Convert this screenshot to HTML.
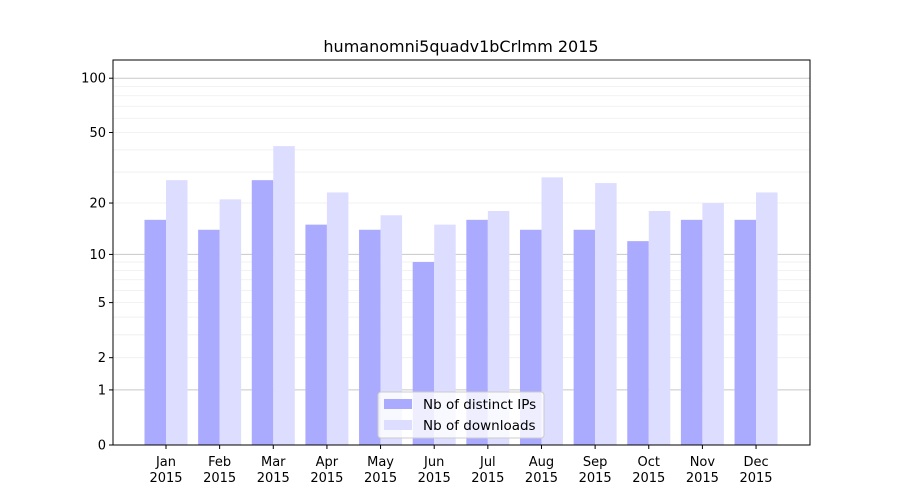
<!DOCTYPE html>
<html><head><meta charset="utf-8"><style>
body{margin:0;background:#fff;font-family:"DejaVu Sans","Liberation Sans",sans-serif;}
svg text{font-family:"DejaVu Sans","Liberation Sans",sans-serif;}
</style></head><body>
<svg id="chart" width="900" height="500" xmlns="http://www.w3.org/2000/svg">
<rect width="900" height="500" fill="#fff"/>
<text x="461" y="52" text-anchor="middle" font-size="16">humanomni5quadv1bCrlmm 2015</text>
<g id="grid"></g><g id="bars"></g><g id="axes"></g>
<g>
<rect x="378" y="392" width="166" height="46" rx="3" fill="#fff" fill-opacity="0.8" stroke="#ccc"/>
<rect x="384" y="399" width="28" height="10" fill="#aaaaff"/>
<text x="423" y="409" font-size="13.5">Nb of distinct IPs</text>
<rect x="384" y="420" width="28" height="10" fill="#ddddff"/>
<text x="423" y="430" font-size="13.5">Nb of downloads</text>
</g>
</svg>
<script>
const months=["Jan","Feb","Mar","Apr","May","Jun","Jul","Aug","Sep","Oct","Nov","Dec"];
const ips=[16,14,27,15,14,9,16,14,14,12,16,16];
const downloads=[27,21,42,23,17,15,18,28,26,18,20,23];
const yTicks=[0,1,2,5,10,20,50,100];
const NS="http://www.w3.org/2000/svg";
const L=113,R=810,T=60,B=445;
function y(v){return B-183*Math.log10(1+v);}
const x0=166,step=53.64;
function x(i){return x0+i*step;}
function mk(tag,at,parent){const e=document.createElementNS(NS,tag);for(const k in at)e.setAttribute(k,at[k]);parent.appendChild(e);return e;}
const grid=document.getElementById('grid'),bars=document.getElementById('bars'),axes=document.getElementById('axes');
[1,10,100].forEach(m=>{for(let k=1;k<10;k++){const v=m*k;if(y(v)<T)continue;
const l=mk('line',{x1:L,x2:R,y1:y(v),y2:y(v),stroke:k==1?'#c8c8c8':'#eeeeee','stroke-width':k==1?1:0.8},grid);
}});
const bw=21.5;
months.forEach((m,i)=>{
const a=mk('rect',{x:x(i)-bw,y:y(ips[i]),width:bw,height:B-y(ips[i]),fill:'#aaaaff'},bars);

const b=mk('rect',{x:x(i),y:y(downloads[i]),width:bw,height:B-y(downloads[i]),fill:'#ddddff'},bars);

const t=mk('line',{x1:x(i),x2:x(i),y1:B,y2:B+4,stroke:'#000'},axes);

const tx=mk('text',{x:x(i),y:B+21,'text-anchor':'middle','font-size':'13'},axes);tx.textContent=m;

const ty=mk('text',{x:x(i),y:B+37,'text-anchor':'middle','font-size':'13'},axes);ty.textContent='2015';

});
yTicks.forEach(v=>{
const t=mk('line',{x1:L-4,x2:L,y1:y(v),y2:y(v),stroke:'#000'},axes);

const tx=mk('text',{x:L-7,y:y(v)+4.5,'text-anchor':'end','font-size':'13'},axes);tx.textContent=v;

});
const fr=mk('rect',{x:L,y:T,width:R-L,height:B-T,fill:'none',stroke:'#000','stroke-width':1},axes);

</script>
</body></html>
